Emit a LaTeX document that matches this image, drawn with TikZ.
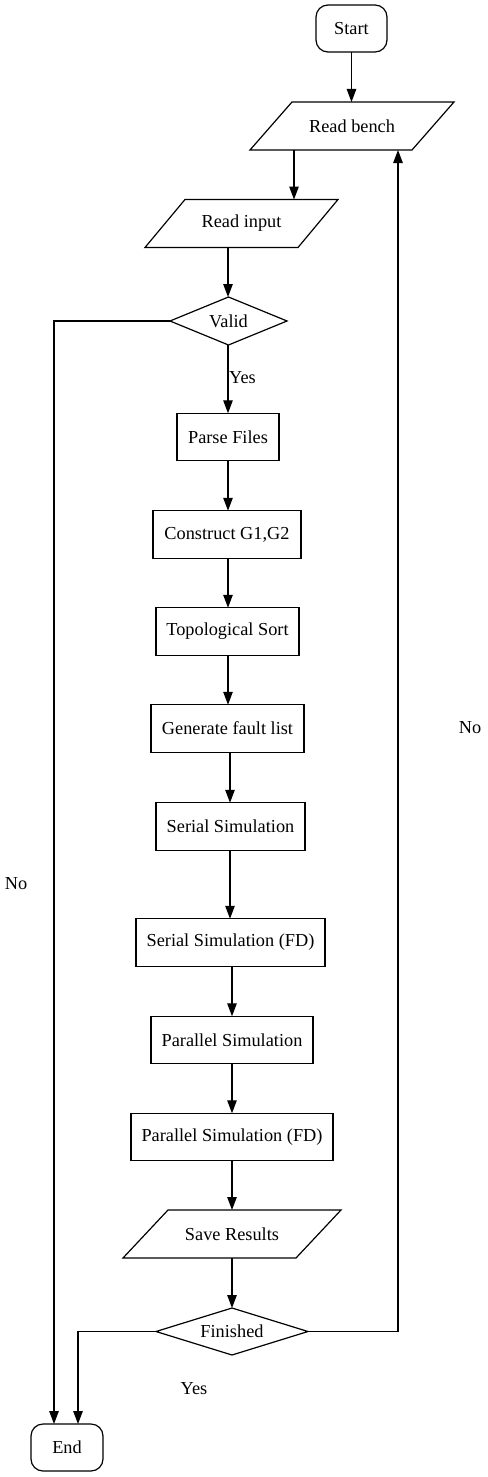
\documentclass[tikz,border=0pt]{standalone}
\usepackage{fontspec}
\setmainfont{Liberation Serif}
\usetikzlibrary{arrows.meta}
\begin{document}
\begin{tikzpicture}[x=1pt,y=-1pt,
  every node/.style={font=\fontsize{18.3}{22}\selectfont, inner sep=0pt, outer sep=0pt},
  base/.style={line width=1.2pt},
  proc/.style={base, draw, rectangle, minimum height=47.5pt},
  term/.style={base, draw, rectangle, rounded corners=12pt, minimum height=47pt},
  txt/.style={rectangle, minimum height=48pt},
  lbl/.style={},
  arr/.style={base, -{Triangle[length=13pt,width=9.5pt]}},
  ln/.style={base}
]
\useasboundingbox (0,0) rectangle (487,1477);

% terminals
\node[term, minimum width=71pt] (start) at (351.5,28.5) {Start};
\node[term, minimum width=72pt] (end) at (67,1447.5) {End};

% parallelograms (text nodes, outline drawn below)
\node[txt, minimum width=204pt] (rb) at (352,126) {Read bench};
\node[txt, minimum width=193pt] (ri) at (241.5,223.5) {Read input};
\node[txt, minimum width=218pt] (sr) at (232,1234) {Save Results};
\foreach \n/\s in {rb/42, ri/40, sr/45}{
  \draw[base] (\n.south west) -- ([xshift=-\s pt]\n.south east) -- (\n.north east) -- ([xshift=\s pt]\n.north west) -- cycle;
}

% diamonds
\node[txt, minimum width=117pt] (valid) at (228.5,321) {Valid};
\node[txt, minimum width=152pt, minimum height=47pt] (fin) at (232,1331.5) {Finished};
\foreach \n in {valid, fin}{
  \draw[base] (\n.north) -- (\n.east) -- (\n.south) -- (\n.west) -- cycle;
}

% processes
\node[proc, minimum width=102pt] (parse) at (228,437) {Parse Files};
\node[proc, minimum width=148pt] (cons) at (227,534.5) {Construct G1,G2};
\node[proc, minimum width=143pt] (topo) at (227.5,631.5) {Topological Sort};
\node[proc, minimum width=153pt] (gen) at (227.5,728.5) {Generate fault list};
\node[proc, minimum width=149pt] (ser) at (230.5,826.5) {Serial Simulation};
\node[proc, minimum width=189pt] (serfd) at (230.5,942.5) {Serial Simulation (FD)};
\node[proc, minimum width=162pt] (par) at (232,1040) {Parallel Simulation};
\node[proc, minimum width=202pt] (parfd) at (232,1137) {Parallel Simulation (FD)};

% helper coordinates for connector columns
\coordinate (c294) at (294,0);
\coordinate (c228) at (228,0);
\coordinate (c230) at (230,0);
\coordinate (c232) at (232,0);
\coordinate (lft) at (54,0);
\coordinate (lft2) at (78,0);
\coordinate (rgt) at (398,0);

% main flow
\draw[arr] (start.south) -- (start.south |- rb.north);
\draw[arr] (rb.south -| c294) -- (ri.north -| c294);
\draw[arr] (ri.south -| c228) -- (valid.north -| c228);
\draw[arr] (valid.south -| c228) -- (parse.north -| c228);
\draw[arr] (parse.south -| c228) -- (cons.north -| c228);
\draw[arr] (cons.south -| c228) -- (topo.north -| c228);
\draw[arr] (topo.south -| c228) -- (gen.north -| c228);
\draw[arr] (gen.south -| c230) -- (ser.north -| c230);
\draw[arr] (ser.south -| c230) -- (serfd.north -| c230);
\draw[arr] (serfd.south -| c232) -- (par.north -| c232);
\draw[arr] (par.south -| c232) -- (parfd.north -| c232);
\draw[arr] (parfd.south -| c232) -- (sr.north -| c232);
\draw[arr] (sr.south -| c232) -- (fin.north -| c232);

% branches
\draw[arr] (valid.west) -- (valid.west -| lft) -- (end.north -| lft);
\draw[arr] (fin.west) -- (fin.west -| lft2) -- (end.north -| lft2);
\draw[arr] (fin.east) -- (fin.east -| rgt) -- (rb.south -| rgt);

% labels
\node[lbl] (ly1) at (242.5,378) {Yes};
\node[lbl] (ly2) at (194,1389) {Yes};
\node[lbl] (ln1) at (16,884) {No};
\node[lbl] (ln2) at (470,728) {No};
\end{tikzpicture}
\end{document}
